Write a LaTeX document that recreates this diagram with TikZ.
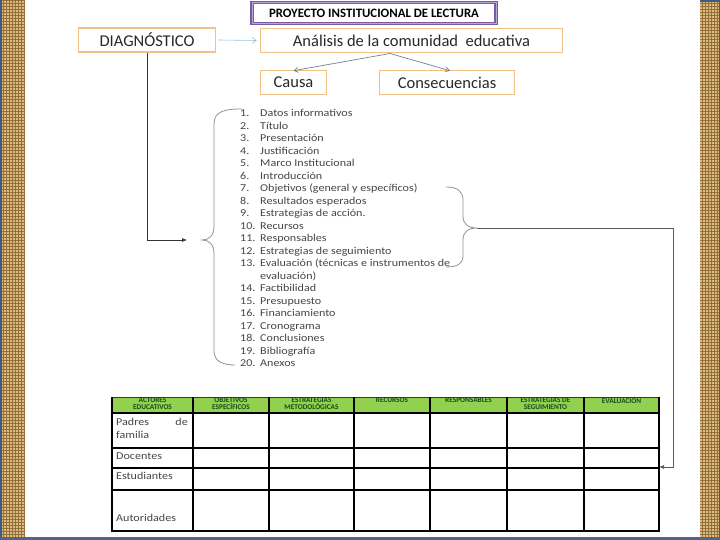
\documentclass[tikz,border=0pt]{standalone}
\usepackage{fontspec}
\setmainfont{Carlito}
\newfontfamily\widefont[FakeStretch=1.15]{Carlito}
\usetikzlibrary{patterns,arrows.meta}
\definecolor{boxor}{RGB}{240,192,132}
\definecolor{purp}{RGB}{120,90,165}
\definecolor{purpl}{RGB}{185,165,215}
\definecolor{burlap}{RGB}{218,188,130}
\definecolor{burlapd}{RGB}{150,110,55}
\definecolor{edgeblue}{RGB}{60,90,140}
\definecolor{hgreen}{RGB}{146,208,80}
\definecolor{dgreen}{RGB}{25,75,25}
\definecolor{txt}{RGB}{40,40,40}
\definecolor{ltxt}{RGB}{70,70,70}
\definecolor{arrblue}{RGB}{150,195,225}
\definecolor{arrgray}{RGB}{110,130,150}
\definecolor{brgray}{RGB}{140,150,155}
\tikzset{
  obox/.style={draw=boxor, line width=1.6pt, fill=white, text=txt, inner sep=0pt, font=\fontsize{16.5}{18}\selectfont},
  item/.style={anchor=base west, inner sep=0pt, text=ltxt, font=\widefont\fontsize{10.5}{11}\selectfont},
  hdr/.style={anchor=north, inner sep=0pt, text=dgreen, align=center, font=\fontsize{7.3}{7}\selectfont\bfseries},
  rowl/.style={anchor=base west, inner sep=0pt, text=ltxt, font=\widefont\fontsize{10.5}{11}\selectfont},
  tline/.style={line width=2.2pt, black},
  burlapfill/.style={fill=burlap, postaction={pattern=grid, pattern color=burlapd}},
}
\begin{document}
\begin{tikzpicture}[x=1pt,y=-1pt]
\useasboundingbox (0,0) rectangle (720,540);
\fill[white] (0,0) rectangle (720,540);
% side stripes
\fill[edgeblue] (0,0) rectangle (2,540);
\path[burlapfill] (2,0) rectangle (25,540);
\path[burlapfill] (700,0) rectangle (719,540);
\fill[edgeblue] (700,0) rectangle (719,2);
\fill[edgeblue] (719,0) rectangle (720,540);
\fill[edgeblue!70!gray] (0,537) rectangle (720,540);

% title
\node[draw=purp, line width=1.2pt, double=purpl, double distance=0.8pt, fill=white,
  minimum width=244pt, minimum height=21pt, inner sep=0pt, text=black,
  font=\fontsize{12.8}{13}\selectfont\bfseries] (title) at (374,13) {PROYECTO INSTITUCIONAL DE LECTURA};

% boxes
\node[obox, minimum width=137pt, minimum height=24pt] (diag) at (147,40) {DIAGNÓSTICO};
\node[obox, minimum width=302pt, minimum height=24pt] (anal) at (411.5,40.5) {Análisis de la comunidad\ \ educativa};
\node[obox, minimum width=66pt, minimum height=24pt] (causa) at (293.5,82.5) {Causa};
\node[obox, minimum width=135pt, minimum height=24pt] (cons) at (447,82.5) {Consecuencias};

\draw[arrblue, line width=0.6pt, -{Straight Barb[length=4pt,width=6pt]}] (diag.east) ++(2,0) -- ([xshift=-3pt]anal.west);
\coordinate (asrc) at (390,53.5);
\draw[arrgray, line width=0.7pt, -{Straight Barb[length=4pt,width=5pt]}] (asrc) -- ([yshift=-1pt]causa.north);
\draw[arrgray, line width=0.7pt, -{Straight Barb[length=4pt,width=5pt]}] (asrc) -- ([xshift=3pt,yshift=-1pt]cons.north);

% diag to list
\coordinate (lend) at (187,240);
\draw[line width=0.7pt, -{Latex[length=5pt,width=4pt]}, black!80] (diag.south) |- (lend);

% left brace
\coordinate (lb) at (202,240);
\draw[brgray, line width=0.8pt] (242,109) .. controls (225,109) and (214,111) .. (214,124) -- (214,226)
  .. controls (214,236) and (209,240) .. (lb) .. controls (209,240) and (214,244) .. (214,254)
  -- (214,351) .. controls (214,362) and (224,365) .. (235,365);

% list
\foreach \n/\t/\y in {1/Datos informativos/113, 2/Título/126, 3/Presentación/138, 4/Justificación/151,
  5/Marco Institucional/163, 6/Introducción/176, 7/Objetivos (general y específicos)/188,
  8/Resultados esperados/201, 9/Estrategias de acción./213, 10/Recursos/226, 11/Responsables/238,
  12/Estrategias de seguimiento/251, 13/Evaluación (técnicas e instrumentos de/263,
  14/Factibilidad/288, 15/Presupuesto/301, 16/Financiamiento/313, 17/Cronograma/326,
  18/Conclusiones/338, 19/Bibliografía/351, 20/Anexos/363}{
  \node[item] (n\n) at (240,\y+3.5) {\n.};
  \node[item] (t\n) at (260,\y+3.5) {\t};
}
\node[item] (t13b) at (260,279.5) {evaluación)};

% right brace
\coordinate (rb) at (477,228);
\draw[brgray, line width=0.8pt] (446,187) .. controls (457,187) and (463,191) .. (463,200) -- (463,216)
  .. controls (463,224) and (468,228) .. (rb) .. controls (468,228) and (463,232) .. (463,240)
  -- (463,256) .. controls (463,264) and (457,267) .. (446,267);
\coordinate (rc) at (673,228);
\coordinate (tend) at (659,467);
\draw[gray!70!black, line width=0.7pt, -{Latex[length=5pt,width=4pt]}] (rb) -- (rc) |- (tend);

% table
\foreach \xa/\xb in {112/193,193/269,269/354,354/430,430/507,507/584,584/659}{
  \fill[hgreen] (\xa,397) rectangle (\xb,413);
}
\draw[dgreen, line width=1pt] (112,397) -- (659,397);
\foreach \x in {112,193,269,354,430,507,584,659}{
  \draw[tline] (\x,397) -- (\x,532);
}
\foreach \y in {413,448,468,490,531}{
  \draw[tline] (111,\y) -- (660,\y);
}
\node[hdr] (h1) at (152.5,397.5) {ACTORES\\EDUCATIVOS};
\node[hdr] (h2) at (231,397.5) {OBJETIVOS\\ESPECÍFICOS};
\node[hdr] (h3) at (311.5,397.5) {ESTRATEGIAS\\METODOLÓGICAS};
\node[hdr] (h4) at (392,397.5) {RECURSOS};
\node[hdr] (h5) at (468.5,397.5) {RESPONSABLES};
\node[hdr] (h6) at (545.5,397.5) {ESTRATEGIAS DE\\SEGUIMIENTO};
\node[hdr] (h7) at (621.5,397.5) {EVALUACIÓN};

\node[rowl] (r1a) at (116,425) {Padres};
\node[rowl, anchor=base east] (r1b) at (188,425) {de};
\node[rowl] (r1c) at (116,438.5) {familia};
\node[rowl] (r2) at (116,459) {Docentes};
\node[rowl] (r3) at (116,479) {Estudiantes};
\node[rowl] (r4) at (116,521) {Autoridades};
\end{tikzpicture}
\end{document}
